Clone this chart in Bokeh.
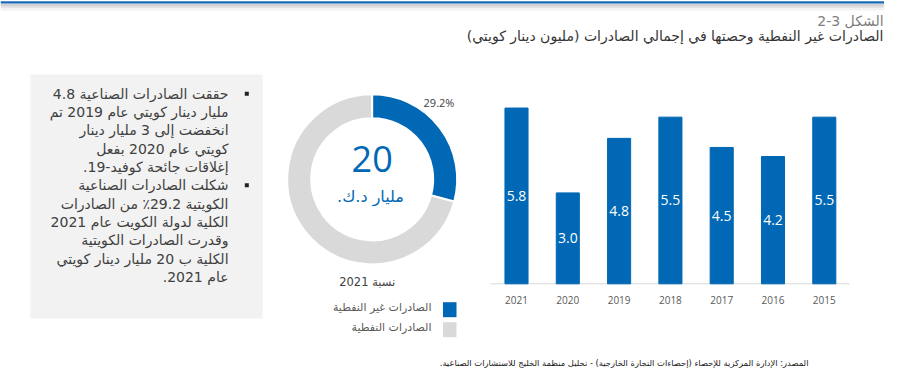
import math
from bokeh.plotting import figure
from bokeh.models import Range1d, ColumnDataSource
from bokeh.core.properties import value
from bokeh.embed import file_html
from bokeh.resources import INLINE

# ---------------- data ----------------
years = ["2021", "2020", "2019", "2018", "2017", "2016", "2015"]
non_oil_exports = [5.8, 3.0, 4.8, 5.5, 4.5, 4.2, 5.5]   # billion KWD
non_oil_share_2021 = 29.2                               # percent
total_exports_2021 = 20                                 # billion KWD

title_1 = "الشكل 3-2"
title_2 = "الصادرات غير النفطية وحصتها في إجمالي الصادرات (مليون دينار كويتي)\u200f"
legend_labels = ["الصادرات غير النفطية", "الصادرات النفطية"]
donut_unit = "مليار د.ك.\u200f"
donut_caption = "نسبة 2021"
source_text = "المصدر: الإدارة المركزية للإحصاء (إحصاءات التجارة الخارجية) - تحليل منظمة الخليج للاستشارات الصناعية.\u200f"
bullet_1 = [
    "حققت الصادرات الصناعية 4.8",
    "مليار دينار كويتي عام 2019 تم",
    "انخفضت إلى 3 مليار دينار",
    "كويتي عام 2020 بفعل",
    "إغلاقات جائحة كوفيد-19.\u200f",
]
bullet_2 = [
    "شكلت الصادرات الصناعية",
    "الكويتية 29.2٪ من الصادرات",
    "الكلية لدولة الكويت عام 2021",
    "وقدرت الصادرات الكويتية",
    "الكلية ب 20 مليار دينار كويتي",
    "عام 2021.\u200f",
]

# ---------------- styling ----------------
BLUE = "#0068b4"
GRAY = "#d9d9d9"
TXT = "#404040"
AR = value("DejaVu Sans")
LAT = value("Open Sans")

W, H = 884, 370
def X(rx):
    return rx
def Y(ry):
    return H - ry

p = figure(width=W, height=H, x_range=Range1d(0, W), y_range=Range1d(0, H),
           output_backend="svg", toolbar_location=None, min_border=0,
           x_axis_location=None, y_axis_location=None,
           outline_line_color=None, background_fill_color="white",
           border_fill_color="white")
p.xgrid.grid_line_color = None
p.ygrid.grid_line_color = None

# ---- bar chart scales ----
bar_first_px, bar_step_px = 516.0, 51.3
base_px, unit_px = 283.3, 30.3
bx0 = -X(bar_first_px) / bar_step_px
by0 = -Y(base_px) / unit_px
p.extra_x_ranges = {"bars": Range1d(bx0, bx0 + W / bar_step_px)}
p.extra_y_ranges = {"bars": Range1d(by0, by0 + H / unit_px)}

idx = list(range(len(years)))
src = ColumnDataSource(dict(x=idx, top=non_oil_exports,
                            mid=[v / 2 for v in non_oil_exports],
                            lab=[f"{v:.1f}" for v in non_oil_exports],
                            year=years))

# top frame line with soft shadow
p.quad(left=0, right=W, top=Y(0.8), bottom=Y(2.6), fill_color="#1a6cb8", line_color=None)
p.quad(left=0, right=W, top=Y(2.6), bottom=Y(3.8), fill_color="#7ea8d2", line_color=None)
p.quad(left=0, right=W, top=Y(3.8), bottom=Y(5.5), fill_color="#cfcfcf", line_color=None)
p.quad(left=0, right=W, top=Y(5.5), bottom=Y(7.5), fill_color="#e3e3e3", line_color=None)
p.quad(left=0, right=W, top=Y(7.5), bottom=Y(10), fill_color="#f3f3f3", line_color=None)

# side panel
p.quad(left=X(30), right=X(262), bottom=Y(318), top=Y(74), fill_color="#f2f2f2", line_color=None)

# baseline
p.segment(x0=X(490), x1=X(849), y0=0, y1=0, y_range_name="bars",
          line_color=GRAY, line_width=1)

p.vbar(x="x", top="top", bottom=0, width=0.45, source=src,
       x_range_name="bars", y_range_name="bars",
       fill_color=BLUE, line_color=BLUE)
p.text(x="x", y="mid", text="lab", source=src, x_range_name="bars", y_range_name="bars",
       text_font=LAT, text_font_size="14px", text_color="white",
       text_align="center", text_baseline="middle")
p.text(x="x", y=Y(299.5), text="year", source=src, x_range_name="bars",
       text_font=LAT, text_font_size="10px", text_color="#595959",
       text_align="center", text_baseline="middle")

# ---- donut ----
cx, cy = X(371.7), Y(178.8)
share = non_oil_share_2021 / 100.0
a0 = math.pi / 2
a1 = a0 - 2 * math.pi * share
p.annular_wedge(x=cx, y=cy, inner_radius=61, outer_radius=85,
                start_angle=a1, end_angle=a0 - 2 * math.pi, direction="clock",
                fill_color=GRAY, line_color="white", line_width=2)
p.annular_wedge(x=cx, y=cy, inner_radius=61, outer_radius=85,
                start_angle=a0, end_angle=a1, direction="clock",
                fill_color=BLUE, line_color="white", line_width=2)
p.text(x=[X(438.5)], y=[Y(101.5)], text=[f"{non_oil_share_2021:.1f}%"],
       text_font=LAT, text_font_size="11px", text_color=TXT,
       text_align="center", text_baseline="middle")
p.text(x=[cx], y=[Y(158.5)], text=[str(total_exports_2021)],
       text_font=LAT, text_font_size="36px", text_color=BLUE,
       text_align="center", text_baseline="middle")
p.text(x=[X(370)], y=[Y(196)], text=[donut_unit],
       text_font=AR, text_font_size="16px", text_color=BLUE,
       text_align="center", text_baseline="middle")
p.text(x=[X(366.7)], y=[Y(281.7)], text=[donut_caption],
       text_font=AR, text_font_size="11.5px", text_color=TXT,
       text_align="center", text_baseline="middle")

# ---- legend ----
p.quad(left=X(442.5), right=X(456), top=Y(301.7), bottom=Y(316.7), fill_color=BLUE, line_color=None)
p.quad(left=X(442.5), right=X(456), top=Y(321.7), bottom=Y(336.7), fill_color=GRAY, line_color=None)
p.text(x=[X(431), X(431)], y=[Y(307), Y(327)], text=legend_labels,
       text_font=AR, text_font_size="11px", text_color="#595959",
       text_align="right", text_baseline="middle")

# ---- titles ----
p.text(x=[X(883)], y=[Y(20)], text=[title_1], text_font=AR, text_font_size="14px",
       text_color="#808080", text_align="right", text_baseline="middle")
p.text(x=[X(883)], y=[Y(35.5)], text=[title_2], text_font=AR, text_font_size="14px",
       text_color="#333333", text_align="right", text_baseline="middle")

# ---- source ----
p.text(x=[X(808)], y=[Y(362)], text=[source_text], text_font=AR, text_font_size="8.4px",
       text_color="#1a1a1a", text_align="right", text_baseline="middle")

# ---- bullets ----
lines = bullet_1 + bullet_2
line_y = [93.3 + 18.3 * i for i in range(len(lines))]
p.text(x=[X(228)] * len(lines), y=[Y(v) for v in line_y], text=lines,
       text_font=AR, text_font_size="14px", text_color=TXT,
       text_align="right", text_baseline="middle")
bul_y = [line_y[0], line_y[len(bullet_1)]]
p.rect(x=[X(246.3)] * 2, y=[Y(v) for v in bul_y], width=4, height=4,
       fill_color="#222222", line_color=None)

open("out.html", "w").write(file_html(p, INLINE))
